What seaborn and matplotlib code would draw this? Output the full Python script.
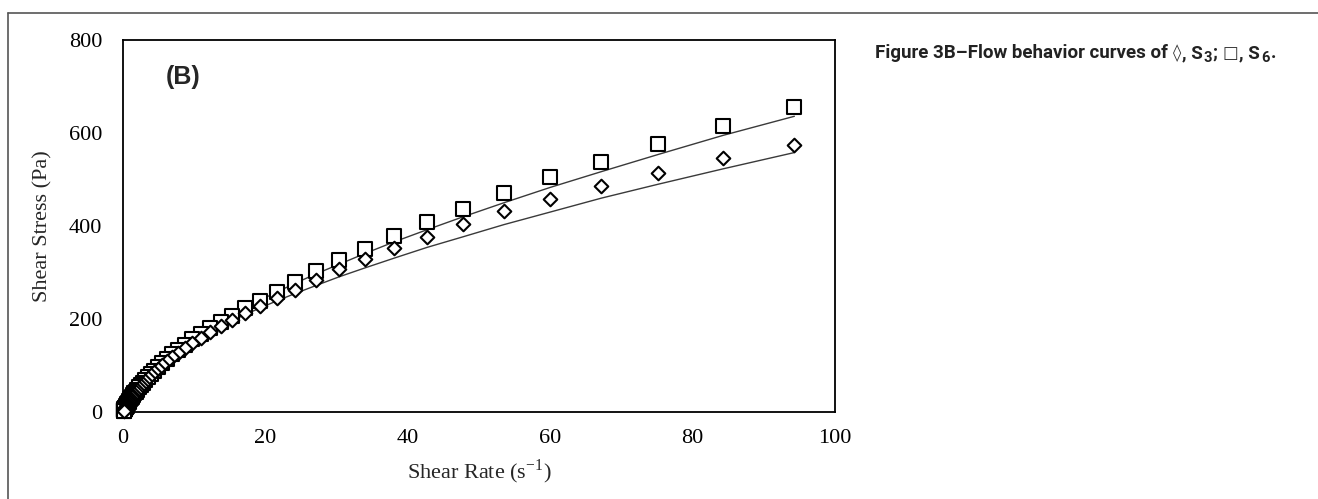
import matplotlib
matplotlib.use("Agg")
import matplotlib.pyplot as plt
import matplotlib.lines as mlines
import numpy as np
import pandas as pd
import seaborn as sns

# shear rate (1/s), same for both samples
shear_rate = [94.3, 84.3, 75.2, 67.2, 60.0, 53.5, 47.8, 42.7, 38.1, 34.0,
              30.4, 27.1, 24.2, 21.6, 19.3, 17.2, 15.3, 13.7, 12.2, 10.9,
              9.73, 8.68, 7.75, 6.91, 6.17, 5.51, 4.91, 4.38, 3.91, 3.49,
              3.11, 2.78, 2.48, 2.21, 1.97, 1.76, 1.57, 1.40, 1.25, 1.12,
              0.997, 0.889, 0.793, 0.708, 0.632, 0.564, 0.503, 0.449, 0.400, 0.357,
              0.319, 0.284, 0.254, 0.226, 0.202, 0.180, 0.161, 0.143, 0.128, 0.114,
              0.102]

# measured shear stress (Pa)
s3_stress = [574, 547, 515, 487, 458, 432, 404, 377, 353, 329,
             307, 283, 263, 245, 229, 213, 198, 185, 172, 160,
             149, 138, 128, 118, 109, 101, 93, 86, 79, 73,
             67, 61, 56, 51, 47, 43, 39, 35.5, 32, 29,
             26, 23.5, 21, 19, 17, 15.3, 13.7, 12.3, 11, 9.9,
             8.9, 8.0, 7.1, 6.4, 5.7, 5.1, 4.6, 4.1, 3.7, 3.3,
             3.0]
s6_stress = [656, 616, 576, 538, 505, 470, 437, 408, 379, 351,
             327, 303, 280, 259, 238, 223, 206, 193, 180, 168,
             156, 145, 134, 124, 114, 105, 97, 89, 82, 75,
             69, 63, 58, 53, 48, 44, 40, 36, 33, 30,
             27, 24, 21.5, 19.3, 17.3, 15.5, 13.9, 12.4, 11.1, 9.9,
             8.9, 7.9, 7.1, 6.3, 5.6, 5.0, 4.5, 4.0, 3.6, 3.2,
             2.9]

# fitted curves (Pa)
s3_fit = [558, 523, 490, 460, 430, 403, 377, 354, 331, 310,
          291, 272, 255, 239, 224, 210, 196, 184, 172, 161,
          151, 141, 132, 124, 116, 109, 102, 95, 89, 84,
          78, 73, 69, 64, 60, 56, 53, 49, 46, 43.5,
          40.6, 38.0, 35.6, 33.4, 31.3, 29.3, 27.4, 25.7, 24.0, 22.5,
          21.1, 19.7, 18.5, 17.3, 16.2, 15.2, 14.2, 13.3, 12.5, 11.6,
          10.9]
s6_fit = [636, 595, 554, 517, 483, 450, 420, 392, 366, 341,
          318, 297, 277, 258, 241, 225, 209, 196, 182, 170,
          159, 148, 138, 129, 120, 112, 104, 97, 91, 85,
          79, 74, 69, 64, 60, 56, 52, 48, 45, 42,
          39.3, 36.6, 34.2, 31.9, 29.7, 27.7, 25.9, 24.1, 22.5, 21.0,
          19.6, 18.2, 17.0, 15.9, 14.8, 13.8, 12.9, 12.0, 11.2, 10.4,
          9.7]

x_ticks = [0, 20, 40, 60, 80, 100]
y_ticks = [0, 200, 400, 600, 800]

# caption pieces: (text, kind) ; kind: b=bold, s=symbol, sub=subscript
caption_parts = [("Figure 3B\u2013Flow behavior curves of ", "b"), ("\u25ca", "s"),
                 (", S", "b"), ("3", "sub"), ("; ", "b"), ("\u25a1", "s"),
                 (", S", "b"), ("6", "sub"), (".", "b")]

sns.set_theme(style="white")
plt.rcParams["font.family"] = ["Liberation Serif", "DejaVu Serif"]
plt.rcParams["mathtext.fontset"] = "custom"
plt.rcParams["mathtext.rm"] = "Liberation Serif"

pts = pd.DataFrame({
    "rate": shear_rate * 2,
    "stress": s3_stress + s6_stress,
    "fit": s3_fit + s6_fit,
    "sample": ["S3"] * len(shear_rate) + ["S6"] * len(shear_rate),
})

fig = plt.figure(figsize=(13.18, 4.99), dpi=100)
ax = fig.add_axes([0.0933, 0.1743, 0.5402, 0.7455])

# fit lines first, markers on top
for smp in ["S3", "S6"]:
    sub = pts[pts["sample"] == smp]
    sns.lineplot(data=sub, x="rate", y="fit", ax=ax, color="#3a3a3a",
                 linewidth=1.0, sort=True, estimator=None, zorder=2)

sns.scatterplot(data=pts[pts["sample"] == "S6"], x="rate", y="stress", ax=ax,
                marker="s", s=95, facecolor="white", edgecolor="black",
                linewidth=1.5, zorder=3, clip_on=False)
sns.scatterplot(data=pts[pts["sample"] == "S3"], x="rate", y="stress", ax=ax,
                marker="D", s=48, facecolor="white", edgecolor="black",
                linewidth=1.5, zorder=4, clip_on=False)

ax.set_xlim(0, 100)
ax.set_ylim(0, 800)
ax.set_xticks(x_ticks)
ax.set_yticks(y_ticks)
ax.tick_params(axis="both", length=0, labelsize=16, colors="black")
ax.tick_params(axis="y", pad=15)
ax.tick_params(axis="x", pad=12)
for sp in ax.spines.values():
    sp.set_color("black")
    sp.set_linewidth(1.3)

ax.set_xlabel(r"Shear Rate (s$^{\mathrm{-1}}$)", fontsize=16, labelpad=7)
ax.set_ylabel("Shear Stress (Pa)", fontsize=16, labelpad=12)

ax.text(0.06, 0.9, "(B)", transform=ax.transAxes, fontsize=18,
        fontweight="bold", family=["Liberation Sans", "DejaVu Sans"],
        va="center", ha="left")

# caption on the right, laid out piece by piece (pixel coords)
renderer = fig.canvas.get_renderer()
cx, cy = 875, 499 - 58
for txt, kind in caption_parts:
    if kind == "b":
        t = fig.text(cx, cy, txt, transform=None, fontsize=13.5, fontweight="bold",
                     color="#222222", family=["Roboto", "DejaVu Sans"], va="baseline")
    elif kind == "s":
        t = fig.text(cx, cy, txt, transform=None, fontsize=12, color="#333333",
                     family=["DejaVu Sans"], va="baseline")
    else:
        t = fig.text(cx + 1, cy - 4, txt, transform=None, fontsize=10.5, fontweight="bold",
                     color="#222222", family=["Roboto", "DejaVu Sans"], va="baseline")
    cx = t.get_window_extent(renderer).x1 + (1 if kind != "b" else 0)

# outer panel frame: top and left edges only
fig.add_artist(mlines.Line2D([0.006, 1.0], [0.974, 0.974], transform=fig.transFigure,
                             color="#555555", linewidth=1.2))
fig.add_artist(mlines.Line2D([0.0063, 0.0063], [0.0, 0.974], transform=fig.transFigure,
                             color="#555555", linewidth=1.2))

fig.savefig("out.png", dpi=100)
